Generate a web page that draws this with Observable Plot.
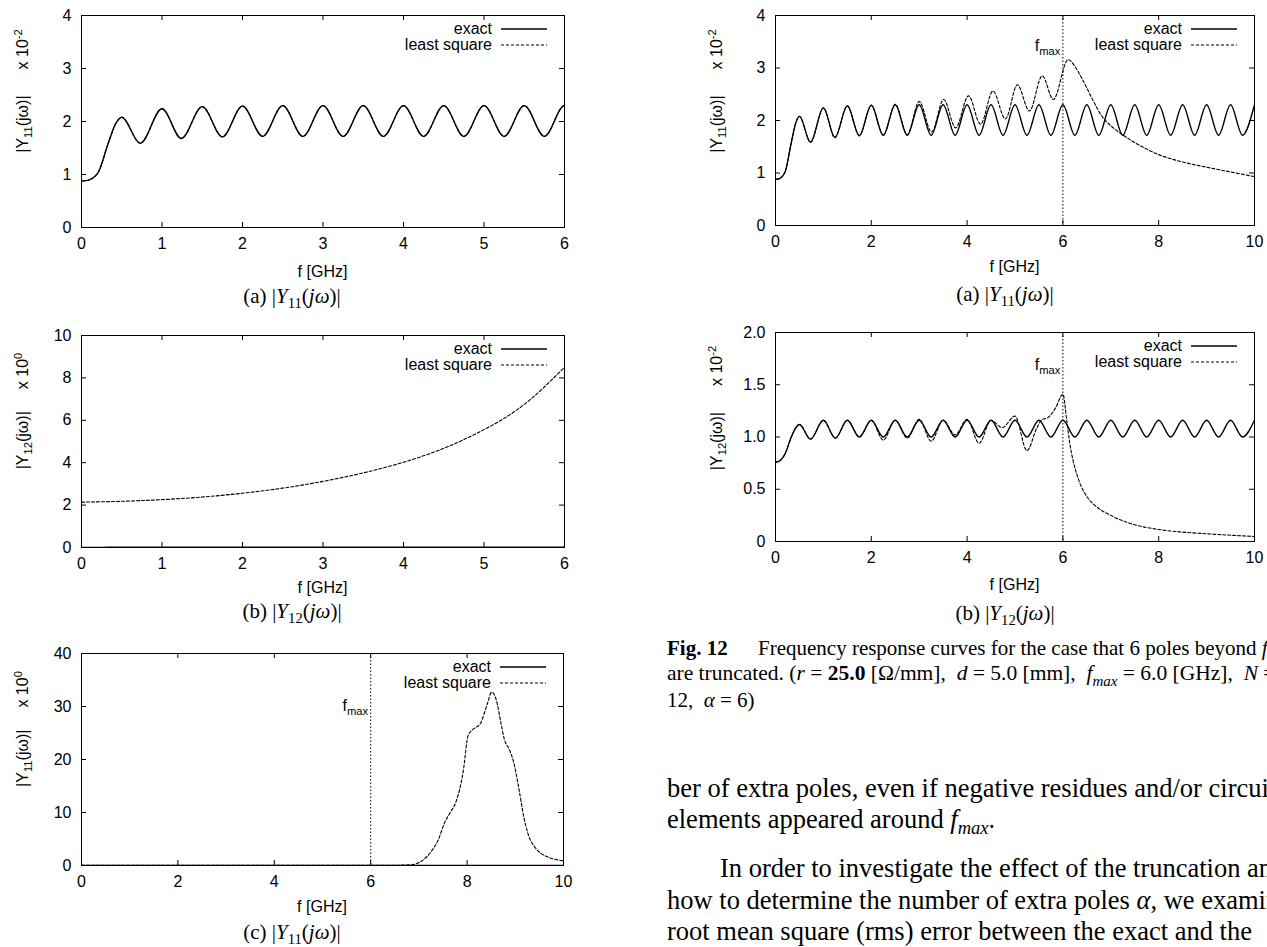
<!DOCTYPE html>
<html><head><meta charset="utf-8">
<script src="https://cdn.jsdelivr.net/npm/d3@7"></script>
<script src="https://cdn.jsdelivr.net/npm/@observablehq/plot@0.6"></script>
<style>
html,body{margin:0;padding:0;background:#fff;}
body{width:1267px;height:947px;overflow:hidden;position:relative;color:#000;}
.abs{position:absolute;white-space:nowrap;line-height:1;}
.sans{font-family:"Liberation Sans",Arial,Helvetica,sans-serif;font-size:16px;}
.serif{font-family:"Liberation Serif","Times New Roman",Times,serif;}
sub,sup{font-size:70%;line-height:0;}
</style></head><body>
<script>
// ---------- data ----------
// exact |Y11(jw)| in units of 1e-2
const fY11 = [0, 0.06, 0.2, 0.33, 0.425, 0.5, 0.73, 1.0, 1.24, 1.5, 1.75, 2.0,
  2.25, 2.5, 2.75, 3.0, 3.25, 3.5, 3.75, 4.0, 4.25, 4.5, 4.75, 5.0, 5.25, 5.5, 5.75, 6.0,
  6.25, 6.5, 6.75, 7.0, 7.25, 7.5, 7.75, 8.0, 8.25, 8.5, 8.75, 9.0, 9.25, 9.5, 9.75, 10.0];
const exactY11 = [0.88, 0.885, 1.02, 1.58, 1.96, 2.08, 1.59, 2.24, 1.68, 2.28, 1.71, 2.29,
  1.72, 2.30, 1.72, 2.30, 1.72, 2.30, 1.72, 2.30, 1.72, 2.30, 1.72, 2.30, 1.72, 2.30, 1.72, 2.30,
  1.72, 2.30, 1.72, 2.30, 1.72, 2.30, 1.72, 2.30, 1.72, 2.30, 1.72, 2.30, 1.72, 2.30, 1.72, 2.30];
// exact |Y12(jw)| in units of 1e-2
const fY12 = [0, 0.06, 0.2, 0.33, 0.425, 0.5, 0.73, 1.0, 1.25, 1.5, 1.75, 2.0,
  2.25, 2.5, 2.75, 3.0, 3.25, 3.5, 3.75, 4.0, 4.25, 4.5, 4.75, 5.0, 5.25, 5.5, 5.75, 6.0,
  6.25, 6.5, 6.75, 7.0, 7.25, 7.5, 7.75, 8.0, 8.25, 8.5, 8.75, 9.0, 9.25, 9.5, 9.75, 10.0];
const exactY12 = [0.76, 0.765, 0.84, 1.00, 1.09, 1.12, 0.98, 1.16, 0.99, 1.16, 1.00, 1.16,
  1.00, 1.16, 1.00, 1.16, 1.00, 1.16, 1.00, 1.16, 1.00, 1.16, 1.00, 1.16, 1.00, 1.16, 1.00, 1.16,
  1.00, 1.16, 1.00, 1.16, 1.00, 1.16, 1.00, 1.16, 1.00, 1.16, 1.00, 1.16, 1.00, 1.16, 1.00, 1.16];
// least square, 6 poles truncated (Fig. 12 a), units of 1e-2
const fLsY11 = [0, 0.06, 0.2, 0.33, 0.425, 0.5, 0.73, 1.0, 1.24, 1.5, 1.75, 2.0,
  2.25, 2.5, 2.75, 3.0, 3.26, 3.51, 3.76, 4.03, 4.28, 4.54, 4.8, 5.05, 5.3, 5.57, 5.8, 6.11,
  6.25, 6.38, 6.5, 6.63, 6.8, 7.0, 7.21, 7.5, 8.0, 8.5, 9.0, 9.5, 10.0];
const lsY11 = [0.88, 0.885, 1.02, 1.58, 1.96, 2.08, 1.58, 2.24, 1.67, 2.28, 1.71, 2.29,
  1.72, 2.31, 1.73, 2.36, 1.78, 2.40, 1.86, 2.47, 1.93, 2.56, 2.03, 2.68, 2.18, 2.85, 2.40, 3.16,
  3.03, 2.83, 2.62, 2.38, 2.10, 1.90, 1.75, 1.58, 1.35, 1.21, 1.11, 1.02, 0.93];
// least square, 6 poles truncated (Fig. 12 b), units of 1e-2
const fLsY12 = [0, 0.06, 0.2, 0.33, 0.425, 0.5, 0.73, 1.0, 1.25, 1.5, 1.75, 2.0,
  2.25, 2.5, 2.75, 3.0, 3.25, 3.5, 3.75, 4.0, 4.25, 4.5, 4.73, 5.0, 5.25, 5.45, 5.55, 5.7,
  5.85, 6.0, 6.08, 6.14, 6.21, 6.3, 6.38, 6.5, 6.71, 7.0, 7.5, 8.0, 8.5, 9.0, 9.5, 10.0];
const lsY12 = [0.76, 0.765, 0.84, 1.00, 1.09, 1.12, 0.98, 1.16, 0.99, 1.16, 1.00, 1.16,
  0.97, 1.16, 0.99, 1.17, 0.96, 1.16, 1.02, 1.17, 0.94, 1.16, 1.09, 1.20, 0.87, 1.08, 1.16, 1.19,
  1.28, 1.41, 1.16, 0.95, 0.78, 0.63, 0.53, 0.43, 0.33, 0.25, 0.16, 0.115, 0.09, 0.074, 0.06, 0.048];
// least square |Y12| (left b), units of 1e0
const fLsY12b = [0, 0.5, 1, 1.5, 2, 2.5, 3, 3.5, 4, 4.5, 5, 5.5, 6];
const lsY12b = [2.14, 2.18, 2.26, 2.38, 2.56, 2.80, 3.12, 3.52, 4.02, 4.68, 5.56, 6.75, 8.5];
// least square |Y11| (left c), units of 1e0
const fLsY11c = [0, 2, 4, 6, 6.6, 6.85, 7.05, 7.26, 7.4, 7.53, 7.65, 7.76, 7.92, 8.02, 8.11,
  8.27, 8.42, 8.51, 8.61, 8.7, 8.77, 8.88, 8.96, 9.07, 9.18, 9.27, 9.42, 9.65, 10];
const lsY11c = [0.05, 0.05, 0.05, 0.05, 0.06, 0.15, 0.8, 2.7, 4.8, 8.0, 10.0, 11.8, 17.8, 24.5, 25.6,
  26.7, 30.5, 32.7, 31.1, 27.0, 23.9, 21.8, 19.7, 14.7, 9.0, 5.8, 3.3, 1.7, 0.9];

const ticks6 = [0, 1, 2, 3, 4, 5, 6];
const ticks10 = [0, 2, 4, 6, 8, 10];
const yTicksA = [0, 1, 2, 3, 4];
const yTicksB = [0, 2, 4, 6, 8, 10];
const yTicksC = [0, 10, 20, 30, 40];
const yTicksE = [0, 0.5, 1.0, 1.5, 2.0];
const fmax = 6;
const legendNames = ["exact", "least square"];

// ---------- helpers ----------
const zip = (xs, ys, k = 1) => xs.map((f, i) => ({f, v: ys[i] * k}));
function div(html, cls, left, top, transform, extra = "") {
  const d = document.createElement("div");
  d.className = "abs " + cls;
  d.innerHTML = html;
  d.style.cssText += `left:${left}px;top:${top}px;transform:${transform};${extra}`;
  document.body.append(d);
  return d;
}

function panel(o) {
  const {left, top, right, bottom} = o.frame;
  const mL = 60, mR = o.mR ?? 15, mT = 6, mB = 34;
  const iw = right - left, ih = bottom - top, T = 5;
  const lines = [];
  for (const s of o.series) {
    lines.push(Plot.line(s.data, {x: "f", y: "v", curve: s.curve || "monotone-x", clip: true,
      stroke: "#000", strokeWidth: s.dash ? 1.1 : 1.35, strokeDasharray: s.dash ? "3,2" : null}));
  }
  const chart = Plot.plot({
    width: iw + mL + mR, height: ih + mT + mB,
    marginLeft: mL, marginRight: mR, marginTop: mT, marginBottom: mB,
    x: {domain: o.xDomain}, y: {domain: o.yDomain},
    style: {fontFamily: '"Liberation Sans", Arial, sans-serif', fontSize: "16px", color: "#000",
            background: "transparent", overflow: "visible"},
    marks: [
      ...(o.fmax != null ? [Plot.ruleX([o.fmax], {stroke: "#000", strokeWidth: 1, strokeDasharray: "1.5,2"})] : []),
      ...lines,
      Plot.tickX(o.xTicks, {x: d => d, insetTop: ih - T, stroke: "#000"}),
      Plot.tickX(o.xTicks, {x: d => d, insetBottom: ih - T, stroke: "#000"}),
      Plot.tickY(o.yTicks, {y: d => d, insetRight: iw - T, stroke: "#000"}),
      Plot.tickY(o.yTicks, {y: d => d, insetLeft: iw - T, stroke: "#000"}),
      Plot.frame({stroke: "#000", strokeWidth: 1}),
      Plot.axisX({ticks: o.xTicks, tickSize: 0, tickPadding: 10, label: null, tickFormat: d => String(d)}),
      Plot.axisY({ticks: o.yTicks, tickSize: 0, tickPadding: 10, label: null, tickFormat: o.yFmt || (d => String(d))})
    ]
  });
  chart.style.position = "absolute";
  chart.style.left = (left - mL) + "px";
  chart.style.top = (top - mT) + "px";
  document.body.append(chart);

  // x label
  div("f [GHz]", "sans", (left + right) / 2, bottom + o.xlabDy, "translate(-50%,-50%)");
  // y label (rotated)
  div(o.ylab, "sans", o.ylabX, top + 76, "translate(-50%,-50%) rotate(-90deg)");
  // caption
  div(o.caption, "serif", o.capX, o.capY, "translate(-50%,-50%)", "font-size:21px;");
  // legend
  legendNames.forEach((name, i) => {
    const cy = top + (i === 0 ? 14 : 30);
    div(name, "sans", right - 72, cy, "translate(-100%,-50%)");
    const svg = document.createElementNS("http://www.w3.org/2000/svg", "svg");
    svg.setAttribute("width", 46); svg.setAttribute("height", 4);
    svg.style.cssText = `position:absolute;left:${right - 63}px;top:${cy - 2}px;`;
    svg.innerHTML = `<line x1="0" x2="46" y1="2" y2="2" stroke="#000" stroke-width="${i === 0 ? 1.35 : 1.1}" ${i === 1 ? 'stroke-dasharray="3,2"' : ""}/>`;
    document.body.append(svg);
  });
  // f_max label
  if (o.fmax != null) {
    const px = chart.scale("x").apply(o.fmax) + (left - mL);
    div("f<sub>max</sub>", "sans", px - 2, top + o.fmaxDy, "translate(-100%,-50%)");
  }
}

// ---------- panels ----------
panel({frame: {left: 81, top: 15, right: 564, bottom: 227}, xDomain: [0, 6], yDomain: [0, 4],
  xTicks: ticks6, yTicks: yTicksA,
  series: [{data: zip(fY11, exactY11), dash: true}, {data: zip(fY11, exactY11)}],
  ylab: '|Y<sub>11</sub>(jω)|<span style="display:inline-block;width:26px"></span>x 10<sup>-2</sup>', ylabX: 23,
  xlabDy: 45, caption: '(a) |<i>Y</i><sub>11</sub>(<i>jω</i>)|', capX: 292, capY: 296});

panel({frame: {left: 81, top: 335, right: 564, bottom: 547}, xDomain: [0, 6], yDomain: [0, 10],
  xTicks: ticks6, yTicks: yTicksB,
  series: [{data: zip(fY12, exactY12, 0.01)}, {data: zip(fLsY12b, lsY12b), dash: true, curve: "natural"}],
  ylab: '|Y<sub>12</sub>(jω)|<span style="display:inline-block;width:22px"></span>x 10<sup>0</sup>', ylabX: 23,
  xlabDy: 41, caption: '(b) |<i>Y</i><sub>12</sub>(<i>jω</i>)|', capX: 292, capY: 611});

panel({frame: {left: 81, top: 653, right: 563, bottom: 865}, xDomain: [0, 10], yDomain: [0, 40],
  xTicks: ticks10, yTicks: yTicksC, fmax, fmaxDy: 53,
  series: [{data: zip(fY11, exactY11, 0.01)}, {data: zip(fLsY11c, lsY11c), dash: true}],
  ylab: '|Y<sub>11</sub>(jω)|<span style="display:inline-block;width:22px"></span>x 10<sup>0</sup>', ylabX: 23,
  xlabDy: 42, caption: '(c) |<i>Y</i><sub>11</sub>(<i>jω</i>)|', capX: 292, capY: 932});

panel({frame: {left: 775, top: 15, right: 1254, bottom: 225}, mR: 12, xDomain: [0, 10], yDomain: [0, 4],
  xTicks: ticks10, yTicks: yTicksA, fmax, fmaxDy: 31,
  series: [{data: zip(fY11, exactY11)}, {data: zip(fLsY11, lsY11), dash: true}],
  ylab: '|Y<sub>11</sub>(jω)|<span style="display:inline-block;width:26px"></span>x 10<sup>-2</sup>', ylabX: 717,
  xlabDy: 42, caption: '(a) |<i>Y</i><sub>11</sub>(<i>jω</i>)|', capX: 1005, capY: 294});

panel({frame: {left: 775, top: 332, right: 1254, bottom: 541}, mR: 12, xDomain: [0, 10], yDomain: [0, 2],
  xTicks: ticks10, yTicks: yTicksE, fmax, fmaxDy: 33, yFmt: d => d === 0 ? "0" : d.toFixed(1),
  series: [{data: zip(fY12, exactY12)}, {data: zip(fLsY12, lsY12), dash: true}],
  ylab: '|Y<sub>12</sub>(jω)|<span style="display:inline-block;width:26px"></span>x 10<sup>-2</sup>', ylabX: 717,
  xlabDy: 44, caption: '(b) |<i>Y</i><sub>12</sub>(<i>jω</i>)|', capX: 1005, capY: 613});

// ---------- caption & body text ----------
div('<b>Fig. 12</b>', "serif", 667, 648, "translateY(-50%)", "font-size:21px;");
div('Frequency response curves for the case that 6 poles beyond <i>f<sub>max</sub></i>', "serif", 758, 648, "translateY(-50%)", "font-size:21px;");
div('are truncated. (<i>r</i> = <b>25.0</b> [Ω/mm], &nbsp;<i>d</i> = 5.0 [mm], &nbsp;<i>f<sub>max</sub></i> = 6.0 [GHz], &nbsp;<i>N</i> =', "serif", 667, 674, "translateY(-50%)", "font-size:21.5px;");
div('12, &nbsp;<i>α</i> = 6)', "serif", 667, 700, "translateY(-50%)", "font-size:21px;");

div('ber of extra poles, even if negative residues and/or circuit', "serif", 667, 788, "translateY(-50%)", "font-size:26.5px;");
div('elements appeared around <i>f<sub>max</sub></i>.', "serif", 667, 819, "translateY(-50%)", "font-size:26.5px;");
div('In order to investigate the effect of the truncation and', "serif", 720, 868, "translateY(-50%)", "font-size:26.5px;");
div('how to determine the number of extra poles <i>α</i>, we examine', "serif", 667, 900, "translateY(-50%)", "font-size:26.5px;");
div('root mean square (rms) error between the exact and the', "serif", 667, 931, "translateY(-50%)", "font-size:26.5px;");
</script>
</body></html>
